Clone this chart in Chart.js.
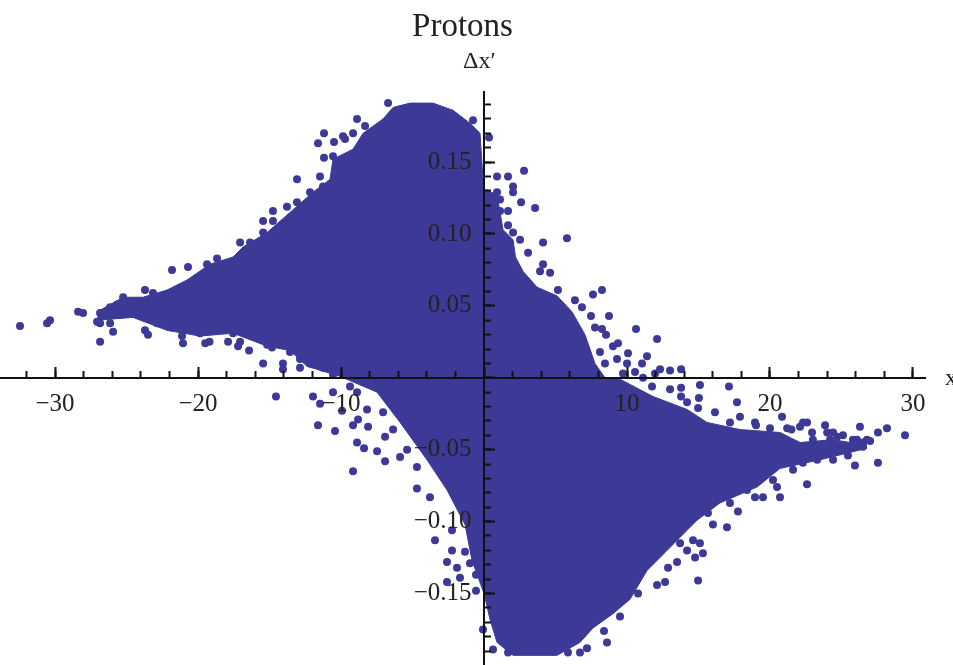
<!DOCTYPE html>
<html>
<head>
    <title>Protons</title>
    <script src="https://cdn.jsdelivr.net/npm/chart.js"></script>
    <style>
        body { margin: 0; background: #fff; }
    </style>
</head>
<body>
    <canvas id="protonsChart" width="953" height="665"></canvas>

    <script>
        // outline of the solid mass as [x, dx']
        const topEdge = [
            [-27.06, .040], [-26.85, .047], [-25.24, .056], [-23.85, .056], [-22.17, .061], [-20.77, .068],
            [-19.16, .079], [-17.55, .084], [-16.85, .091], [-15.17, .101], [-13.57, .115], [-11.96, .129],
            [-10.77, .138], [-10.56, .152], [-9.16, .159], [-8.46, .170], [-7.06, .180], [-6.36, .188],
            [-5.17, .191], [-3.57, .191], [-2.17, .186], [-.98, .177], [-.28, .170], [-.07, .138],
            [0, .124], [.14, .131], [.91, .127], [1.33, .103], [2.03, .096], [2.2, .084],
            [2.73, .074], [3.71, .063], [5.1, .057], [6.15, .046], [7.06, .030], [7.76, .010],
            [8.46, 0], [9.51, -.001], [11.82, -.013], [14.2, -.022], [15.59, -.031], [17.9, -.036],
            [20.7, -.038], [22.1, -.045], [24.41, -.043], [26.78, -.047]
        ];
        const bottomEdge = [
            [-27.06, .040], [-24.55, .042], [-22.17, .033], [-19.86, .029], [-17.55, .031], [-15.17, .022],
            [-13.57, .019], [-12.38, .008], [-10.07, .001], [-7.48, -.010], [-5.87, -.031], [-3.99, -.057],
            [-2.59, -.078], [-1.33, -.102], [-.84, -.127], [0, -.150], [.42, -.168], [.91, -.184],
            [2.03, -.193], [5.1, -.193], [6.71, -.184], [7.62, -.174], [9.02, -.164], [10.21, -.154],
            [11.4, -.134], [12.8, -.120], [14.9, -.099], [16.5, -.087], [19.09, -.076], [20.7, -.063],
            [23.5, -.057], [26.78, -.049]
        ];

        // loose particles around the mass
        const leftDots = [
            [-32.45, .036], [-30.56, .038], [-30.35, .040], [-28.39, .046], [-28.04, .045], [-26.85, .025],
            [-25.94, .032], [-27.06, .039], [-23.71, .033], [-23.5, .030], [-21.12, .029], [-21.05, .024],
            [-19.5, .024], [-19.2, .025], [-17.9, .025], [-17.2, .022], [-16.43, .019], [-15.45, .010],
            [-14.06, .010], [-14.06, .006], [-14.55, -.013], [-11.96, -.013], [-11.47, -.018], [-9.93, -.023],
            [-11.61, -.033], [-10.42, -.037], [-8.88, -.045], [-8.39, -.049], [-7.48, -.051], [-6.92, -.058],
            [-9.16, -.065], [-8.81, -.029], [-9.16, -.033], [-8.11, -.034], [-6.92, -.041], [-5.87, -.055],
            [-10.56, -.010], [-12.87, .007], [-11.47, .008], [-26.85, .045], [-4.69, -.077], [-3.78, -.083],
            [-3.43, -.113], [-2.24, -.106], [-2.24, -.120], [-2.59, -.128], [-1.89, -.132], [-1.68, -.139],
            [-.56, -.137], [-2.59, -.142], [-.56, -.148], [-1.33, -.121], [-.98, -.129], [-.07, -.175],
            [-23.71, .061], [-23.15, .059], [-25.24, .056], [-21.82, .075], [-20.7, .077], [-18.67, .083],
            [-19.37, .079], [-17.06, .094], [-16.36, .094], [-15.45, .109], [-14.76, .109], [-14.76, .116],
            [-15.45, .101], [-13.78, .119], [-13.08, .122], [-12.17, .129], [-13.08, .138], [-11.47, .140],
            [-11.26, .133], [-11.19, .153], [-10.56, .154], [-11.61, .163], [-11.19, .170], [-10.49, .164],
            [-9.72, .166], [-9.86, .168], [-9.16, .170], [-8.88, .180], [-8.32, .175], [-6.71, .191],
            [-.77, .179], [-26.15, .049], [-25.66, .051], [-26.85, .038], [-26.15, .038], [-24.06, .045],
            [-22.87, .038], [-21.82, .035], [-21.12, .033], [-19.86, .031], [-18.95, .033], [-17.55, .031],
            [-17.06, .025], [-15.17, .023], [-14.83, .021], [-13.57, .018], [-12.87, .013], [-12.17, .010],
            [-11.26, .007], [-10.56, .002], [-9.37, -.006], [-8.88, -.010], [-8.18, -.022], [-7.06, -.024],
            [-6.36, -.036], [-5.38, -.050], [-4.69, -.062]
        ];
        const rightDots = [
            [.35, .167], [.91, .140], [1.68, .140], [2.8, .144], [2.03, .133], [2.03, .129],
            [.91, .129], [1.12, .124], [2.59, .122], [3.57, .118], [1.68, .116], [1.12, .116],
            [1.68, .106], [2.03, .101], [2.52, .096], [3.08, .087], [4.13, .094], [5.8, .097],
            [4.13, .079], [3.92, .074], [4.62, .073], [5.17, .061], [7.62, .058], [8.25, .061],
            [6.36, .054], [6.85, .049], [7.48, .043], [8.74, .043], [7.76, .035], [8.25, .034],
            [8.53, .030], [10.63, .034], [12.1, .027], [9.02, .022], [9.37, .024], [8.11, .018],
            [10.07, .017], [11.4, .015], [9.3, .013], [8.46, .010], [10, .010], [11.05, .010],
            [9.72, .003], [10.56, .004], [12.31, .006], [13.01, .005], [13.78, .006], [11.96, .003],
            [11.12, 0], [11.75, -.006], [13.01, -.008], [13.78, -.007], [13.78, -.013], [15.1, -.005],
            [17.13, -.006], [15.03, -.014], [17.69, -.017], [14.2, -.017], [14.97, -.021], [16.15, -.024],
            [17.9, -.027], [19.02, -.033], [20.84, -.027], [20, -.035], [22.31, -.031], [22.59, -.031],
            [21.2, -.035], [22.94, -.038], [23.85, -.033], [24.41, -.038], [25.1, -.040], [26.29, -.034],
            [26.08, -.043], [26.78, -.043], [26.5, -.048], [25.45, -.054], [24.41, -.057], [25.94, -.061],
            [27.55, -.059], [27.55, -.038], [28.18, -.035], [29.44, -.040], [22.59, -.074], [21.61, -.064],
            [20.7, -.083], [20.21, -.071], [20.49, -.076], [.63, -.189], [1.68, -.191], [5.87, -.191],
            [6.71, -.191], [7.2, -.188], [8.6, -.184], [8.39, -.176], [9.51, -.166], [16.01, -.102],
            [16.99, -.104], [14.97, -.141], [12.66, -.142], [12.1, -.144], [10.77, -.150], [15.31, -.122],
            [14.76, -.125], [15.1, -.115], [14.62, -.113], [13.5, -.128], [12.87, -.132], [14.2, -.120],
            [13.71, -.115], [19.51, -.083], [18.95, -.083], [17.76, -.093], [17.2, -.087], [15.66, -.094],
            [18.39, -.078], [10.42, -.142], [18.95, -.031], [17.2, -.031], [23, -.055], [23.5, -.048],
            [24.2, -.043], [24.7, -.048], [24, -.052], [26.08, -.047], [26.5, -.045], [27, -.044],
            [25.8, -.043], [24, -.038], [24.7, -.041], [22.3, -.059], [23.3, -.057], [22.1, -.034],
            [21.5, -.036], [23, -.043], [22.45, -.048]
        ];

        const xTickLabels = [-30, -20, -10, 10, 20, 30];
        const yTickLabels = [-0.15, -0.10, -0.05, 0.05, 0.10, 0.15];

        const blue = '#3d3a97';
        const serif = '"Liberation Serif", serif';
        const toPoint = p => ({ x: p[0], y: p[1] });

        // Δx' and x sit at the ends of the axes
        const axisNames = {
            id: 'axisNames',
            afterDraw(chart) {
                const ctx = chart.ctx;
                ctx.save();
                ctx.fillStyle = '#222';
                ctx.textBaseline = 'middle';
                ctx.textAlign = 'left';
                ctx.font = '24px ' + serif;
                ctx.fillText('Δx′', chart.scales.x.getPixelForValue(0) - 21, 62);
                ctx.fillText('x', 945, chart.scales.y.getPixelForValue(0) + 1);
                ctx.restore();
            }
        };

        // label overhang would otherwise shrink the plot area
        const noOverhang = s => { s.paddingLeft = s.paddingRight = s.paddingTop = s.paddingBottom = 0; };

        const axisBase = { min: -33.85, max: 30.84, position: { y: 0 }, afterFit: noOverhang };
        const yBase = { min: -0.1997, max: 0.199, position: { x: 0 }, afterFit: noOverhang };
        const line = { color: '#111', width: 2, z: 1 };

        const ctx = document.getElementById('protonsChart').getContext('2d');
        new Chart(ctx, {
            type: 'scatter',
            data: {
                datasets: [
                    { data: topEdge.map(toPoint), showLine: true, fill: '+1', tension: 0, pointRadius: 0,
                      borderColor: blue, borderWidth: 1, backgroundColor: blue },
                    { data: bottomEdge.map(toPoint), showLine: true, tension: 0, pointRadius: 0,
                      borderColor: blue, borderWidth: 1 },
                    { data: leftDots.map(toPoint), pointRadius: 4, pointBorderWidth: 0, pointBackgroundColor: blue },
                    { data: rightDots.map(toPoint), pointRadius: 4, pointBorderWidth: 0, pointBackgroundColor: blue }
                ]
            },
            options: {
                responsive: false,
                animation: false,
                layout: { autoPadding: false, padding: { left: 0, right: 28, top: 0, bottom: 0 } },
                plugins: {
                    legend: { display: false },
                    tooltip: { enabled: false },
                    title: {
                        display: true,
                        text: 'Protons',
                        color: '#222',
                        font: { family: serif, size: 33, weight: 'normal' },
                        padding: { top: 8, bottom: 44 }
                    }
                },
                scales: {
                    x: {
                        ...axisBase,
                        border: line,
                        grid: { drawOnChartArea: false, tickLength: -8, tickWidth: 2, tickColor: '#111', z: 1 },
                        ticks: { display: false, stepSize: 2, includeBounds: false }
                    },
                    x2: {
                        ...axisBase,
                        border: { display: false },
                        grid: { drawOnChartArea: false, tickLength: -11, tickWidth: 2, tickColor: '#111', z: 1 },
                        ticks: {
                            stepSize: 10, includeBounds: false, autoSkip: false, maxRotation: 0,
                            padding: 23, color: '#222', z: 1,
                            font: { family: serif, size: 25 },
                            callback: v => xTickLabels.includes(v) ? String(v).replace('-', '−') : ''
                        }
                    },
                    y: {
                        ...yBase,
                        border: line,
                        grid: { drawOnChartArea: false, tickLength: -8, tickWidth: 2, tickColor: '#111', z: 1 },
                        ticks: { display: false, stepSize: 0.01, includeBounds: false }
                    },
                    y2: {
                        ...yBase,
                        border: { display: false },
                        grid: { drawOnChartArea: false, tickLength: -11, tickWidth: 2, tickColor: '#111', z: 1 },
                        ticks: {
                            stepSize: 0.05, includeBounds: false, autoSkip: false, color: '#222', z: 1,
                            font: { family: serif, size: 25 },
                            // trailing spaces keep the label clear of the axis
                            callback: v => yTickLabels.includes(+v.toFixed(2)) ? v.toFixed(2).replace('-', '−') + '  ' : ''
                        }
                    }
                }
            },
            plugins: [axisNames]
        });
    </script>
</body>
</html>
